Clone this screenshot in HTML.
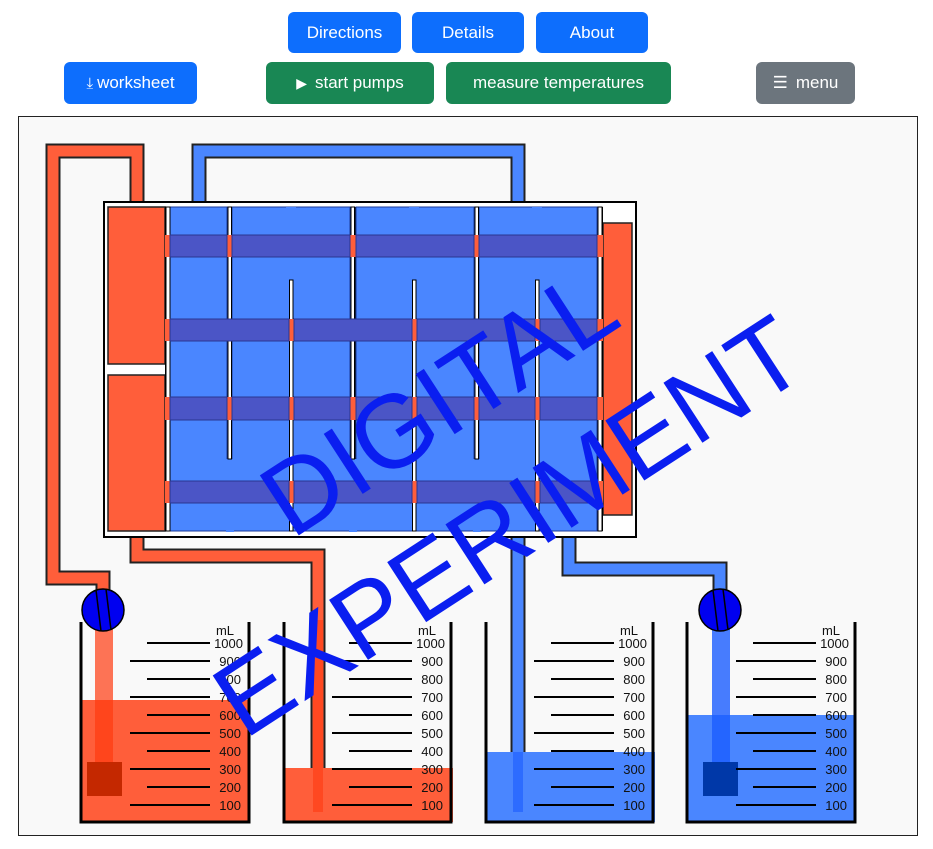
<!DOCTYPE html>
<html><head><meta charset="utf-8"><style>
body{margin:0;width:933px;height:849px;background:#fff;font-family:"Liberation Sans",sans-serif;position:relative;overflow:hidden}
.b{position:absolute;color:#fff;font-size:17px;border-radius:6px;display:flex;align-items:center;justify-content:center;height:41px}
.bl{background:#0d6efd}.gr{background:#198754}.gy{background:#6c757d}
svg{position:absolute;left:0;top:0}
</style></head><body>
<div class="b bl" style="left:288px;top:12px;width:113px">Directions</div>
<div class="b bl" style="left:412px;top:12px;width:112px">Details</div>
<div class="b bl" style="left:536px;top:12px;width:112px">About</div>
<div class="b bl" style="left:64px;top:62px;width:133px;height:42px"><span style="font-size:15px;margin-right:4px">⤓</span>worksheet</div>
<div class="b gr" style="left:266px;top:62px;width:168px;height:42px"><span style="font-size:14px;margin-right:8px">▶</span>start pumps</div>
<div class="b gr" style="left:446px;top:62px;width:225px;height:42px">measure temperatures</div>
<div class="b gy" style="left:756px;top:62px;width:99px;height:42px"><span style="margin-right:8px">☰</span>menu</div>
<svg width="933" height="849" font-family="Liberation Sans, sans-serif">
<rect x="18.5" y="116.5" width="899" height="719" fill="#f9f9f9" stroke="#222"/>
<g fill="none" stroke-linejoin="miter">
<polyline points="137,202 137,151 53,151 53,578 103,578 103,600" stroke="#222" stroke-width="15"/>
<polyline points="137,202 137,151 53,151 53,578 103,578 103,600" stroke="#ff5e3a" stroke-width="11"/>
<polyline points="137,537 137,556 318,556 318,812" stroke="#222" stroke-width="15"/>
<polyline points="137,537 137,556 318,556 318,812" stroke="#ff5e3a" stroke-width="11"/>
<polyline points="199,202 199,151 518,151 518,202" stroke="#222" stroke-width="15"/>
<polyline points="199,202 199,151 518,151 518,202" stroke="#4a86ff" stroke-width="11"/>
<polyline points="518,537 518,812" stroke="#222" stroke-width="15"/>
<polyline points="518,537 518,812" stroke="#4a86ff" stroke-width="11"/>
<polyline points="569,537 569,569 720,569 720,600" stroke="#222" stroke-width="15"/>
<polyline points="569,537 569,569 720,569 720,600" stroke="#4a86ff" stroke-width="11"/>
</g>
<rect x="104" y="202" width="532" height="335" fill="#fff" stroke="#000" stroke-width="2"/>
<g stroke="#222" stroke-width="1.5">
<rect x="108" y="207" width="57" height="157" fill="#ff5e3a"/>
<rect x="108" y="375" width="57" height="156" fill="#ff5e3a"/>
<rect x="603" y="223" width="29" height="292" fill="#ff5e3a"/>
</g>
<rect x="165" y="207" width="438" height="324" fill="#000"/>
<g fill="#4a86ff" stroke="#1a3a9a" stroke-width="1">
<rect x="170" y="207" width="57" height="324"/>
<rect x="232" y="207" width="118" height="324"/>
<rect x="356" y="207" width="118" height="324"/>
<rect x="479" y="207" width="118" height="324"/>
</g>
<g fill="#4a86ff">
<rect x="226" y="459" width="8" height="73"/>
<rect x="349" y="459" width="8" height="73"/>
<rect x="473" y="459" width="8" height="73"/>
<rect x="286" y="207" width="10" height="74"/>
<rect x="409" y="207" width="10" height="74"/>
<rect x="532" y="207" width="10" height="74"/>
</g>
<g fill="#fff" stroke="#000" stroke-width="1">
<rect x="166" y="207" width="4" height="324"/>
<rect x="598" y="207" width="4" height="324"/>
<rect x="228" y="207" width="3.5" height="252"/>
<rect x="351" y="207" width="3.5" height="252"/>
<rect x="475" y="207" width="3.5" height="252"/>
<rect x="289.5" y="280" width="3.5" height="251"/>
<rect x="412.5" y="280" width="3.5" height="251"/>
<rect x="535.5" y="280" width="3.5" height="251"/>
</g>
<g fill="#ff5e3a">
<rect x="165" y="235" width="438" height="22"/><rect x="165" y="319" width="438" height="22"/>
<rect x="165" y="397" width="438" height="23"/><rect x="165" y="481" width="438" height="22"/>
</g>
<g fill="#4b55c6" stroke="#2a3590" stroke-width="1">
<rect x="170" y="235" width="57" height="22"/><rect x="232" y="235" width="118" height="22"/><rect x="356" y="235" width="118" height="22"/><rect x="479" y="235" width="118" height="22"/>
<rect x="170" y="319" width="119" height="22"/><rect x="294" y="319" width="118" height="22"/><rect x="417" y="319" width="118" height="22"/><rect x="540" y="319" width="57" height="22"/>
<rect x="170" y="397" width="57" height="23"/><rect x="232" y="397" width="57" height="23"/><rect x="294" y="397" width="56" height="23"/><rect x="356" y="397" width="56" height="23"/><rect x="417" y="397" width="57" height="23"/><rect x="479" y="397" width="56" height="23"/><rect x="540" y="397" width="57" height="23"/>
<rect x="170" y="481" width="119" height="22"/><rect x="294" y="481" width="118" height="22"/><rect x="417" y="481" width="118" height="22"/><rect x="540" y="481" width="57" height="22"/>
</g>
<g fill="#ff5e3a"><rect x="80" y="700" width="170" height="122"/><rect x="283" y="768" width="170" height="54"/></g>
<g fill="#4a86ff"><rect x="485" y="752" width="170" height="70"/><rect x="686" y="715" width="170" height="107"/></g>
<rect x="95" y="620" width="18" height="170" fill="#ff3a10" opacity="0.7"/>
<rect x="87" y="762" width="35" height="34" fill="#c42800"/>
<rect x="313" y="620" width="10" height="192" fill="#ff3a10" opacity="0.6"/>
<rect x="712" y="620" width="18" height="170" fill="#1a5cff" opacity="0.8"/>
<rect x="703" y="762" width="35" height="34" fill="#0038a8"/>
<rect x="513" y="752" width="10" height="60" fill="#1a5cff" opacity="0.6"/>
<g fill="none" stroke="#000" stroke-width="3">
<polyline points="81,622 81,822 249,822 249,622"/>
<polyline points="284,622 284,822 451,822 451,622"/>
<polyline points="486,622 486,822 653,822 653,622"/>
<polyline points="687,622 687,822 855,822 855,622"/>
</g>
<g stroke="#000" stroke-width="1.5">
<circle cx="103" cy="610" r="21" fill="#0000f0"/><line x1="96" y1="590" x2="101" y2="631"/><line x1="106" y1="589" x2="111" y2="630"/>
<circle cx="720" cy="610" r="21" fill="#0000f0"/><line x1="713" y1="590" x2="718" y2="631"/><line x1="723" y1="589" x2="728" y2="630"/>
</g>
<g stroke="#000" stroke-width="2">
<path d="M147 643H210M130 661H210M147 679H210M130 697H210M147 715H210M130 733H210M147 751H210M130 769H210M147 787H210M130 805H210"/>
<path transform="translate(202,0)" d="M147 643H210M130 661H210M147 679H210M130 697H210M147 715H210M130 733H210M147 751H210M130 769H210M147 787H210M130 805H210"/>
<path transform="translate(404,0)" d="M147 643H210M130 661H210M147 679H210M130 697H210M147 715H210M130 733H210M147 751H210M130 769H210M147 787H210M130 805H210"/>
<path transform="translate(606,0)" d="M147 643H210M130 661H210M147 679H210M130 697H210M147 715H210M130 733H210M147 751H210M130 769H210M147 787H210M130 805H210"/>
</g>
<g font-size="13" fill="#111" text-anchor="end">
<g><text x="234" y="635">mL</text><text x="243" y="648">1000</text><text x="241" y="666">900</text><text x="241" y="684">800</text><text x="241" y="702">700</text><text x="241" y="720">600</text><text x="241" y="738">500</text><text x="241" y="756">400</text><text x="241" y="774">300</text><text x="241" y="792">200</text><text x="241" y="810">100</text></g>
<g transform="translate(202,0)"><text x="234" y="635">mL</text><text x="243" y="648">1000</text><text x="241" y="666">900</text><text x="241" y="684">800</text><text x="241" y="702">700</text><text x="241" y="720">600</text><text x="241" y="738">500</text><text x="241" y="756">400</text><text x="241" y="774">300</text><text x="241" y="792">200</text><text x="241" y="810">100</text></g>
<g transform="translate(404,0)"><text x="234" y="635">mL</text><text x="243" y="648">1000</text><text x="241" y="666">900</text><text x="241" y="684">800</text><text x="241" y="702">700</text><text x="241" y="720">600</text><text x="241" y="738">500</text><text x="241" y="756">400</text><text x="241" y="774">300</text><text x="241" y="792">200</text><text x="241" y="810">100</text></g>
<g transform="translate(606,0)"><text x="234" y="635">mL</text><text x="243" y="648">1000</text><text x="241" y="666">900</text><text x="241" y="684">800</text><text x="241" y="702">700</text><text x="241" y="720">600</text><text x="241" y="738">500</text><text x="241" y="756">400</text><text x="241" y="774">300</text><text x="241" y="792">200</text><text x="241" y="810">100</text></g>
</g>
<g fill="#0a1ef0" font-size="104" text-anchor="middle">
<text transform="translate(458,432) rotate(-33)">DIGITAL</text>
<text transform="translate(528,556) rotate(-33)">EXPERIMENT</text>
</g>
</svg>
</body></html>
